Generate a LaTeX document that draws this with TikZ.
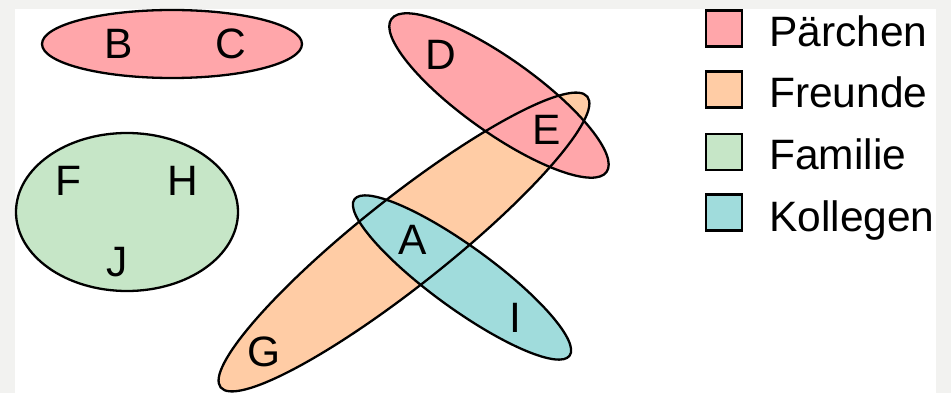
\documentclass[tikz,border=0pt]{standalone}
\usepackage{fontspec}
\setmainfont{Liberation Sans}
\definecolor{cpink}{RGB}{255,166,170}
\definecolor{corange}{RGB}{255,204,165}
\definecolor{cgreen}{RGB}{198,230,199}
\definecolor{ccyan}{RGB}{160,220,220}
\definecolor{cbg}{RGB}{242,242,240}
\begin{document}
\begin{tikzpicture}[x=1pt,y=-1pt,
  outline/.style={draw=black,line width=2.3pt},
  letter/.style={font=\fontsize{42.5pt}{50pt}\selectfont,inner sep=0pt},
  keybox/.style={draw=black,line width=2.3pt,minimum width=36pt,minimum height=36pt,inner sep=0pt},
  keytext/.style={font=\fontsize{42.5pt}{50pt}\selectfont,inner sep=0pt,anchor=base west}]
\useasboundingbox (0,0) rectangle (951,393);
\fill[cbg] (0,0) rectangle (951,393);
\fill[white] (15,9) rectangle (936,393);
% coordinates of set centres
\coordinate (cBC) at (172,44);
\coordinate (cFam) at (127,212);
\coordinate (cD) at (499,95.5);
\coordinate (cFr) at (404,242);
\coordinate (cKo) at (462,277.5);
% fills
\fill[cpink] (cBC) ellipse [x radius=130pt, y radius=34pt];
\fill[cgreen] (cFam) ellipse [x radius=111pt, y radius=79pt];
\fill[corange,rotate around={38.4:(cFr)}] (cFr) ellipse [x radius=234pt, y radius=44pt];
\fill[cpink,rotate around={-35.4:(cD)}] (cD) ellipse [x radius=132pt, y radius=37pt];
\fill[ccyan,rotate around={-36:(cKo)}] (cKo) ellipse [x radius=133pt, y radius=31pt];
% outlines
\draw[outline] (cBC) ellipse [x radius=130pt, y radius=34pt];
\draw[outline] (cFam) ellipse [x radius=111pt, y radius=79pt];
\draw[outline,rotate around={38.4:(cFr)}] (cFr) ellipse [x radius=234pt, y radius=44pt];
\draw[outline,rotate around={-35.4:(cD)}] (cD) ellipse [x radius=132pt, y radius=37pt];
\draw[outline,rotate around={-36:(cKo)}] (cKo) ellipse [x radius=133pt, y radius=31pt];
% letters
\node[letter] (lB) at (119,44) {B};
\node[letter] (lC) at (231,44) {C};
\node[letter] (lF) at (68,181) {F};
\node[letter] (lH) at (183,181) {H};
\node[letter] (lJ) at (117,262) {J};
\node[letter] (lD) at (441,55) {D};
\node[letter] (lE) at (547,130) {E};
\node[letter] (lA) at (413,240) {A};
\node[letter] (lI) at (515,318) {I};
\node[letter] (lG) at (264,352) {G};
% legend
\node[keybox,fill=cpink] (kP) at (724,28.5) {};
\node[keybox,fill=corange] (kF) at (724,89.5) {};
\node[keybox,fill=cgreen] (kFa) at (724,152) {};
\node[keybox,fill=ccyan] (kK) at (724,212.5) {};
\node[keytext] (tP) at (769,47) {Pärchen};
\node[keytext] (tF) at (769,108) {Freunde};
\node[keytext] (tFa) at (769,170) {Familie};
\node[keytext] (tK) at (769,231) {Kollegen};
\end{tikzpicture}
\end{document}
